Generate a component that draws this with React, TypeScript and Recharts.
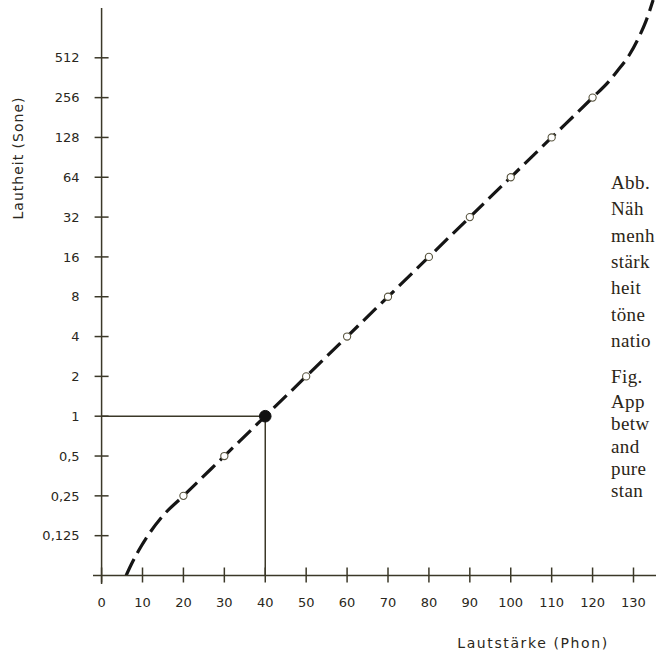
import React from 'react';
import { ComposedChart, Line, XAxis, YAxis, ReferenceLine, Scatter, Customized } from 'recharts';

const W = 656;
const H = 654;
const X_MIN = -2.1;
const X_MAX = 135.5;
const Y_MIN = 1 / 16;
const Y_MAX = 1400;
const PLOT_LEFT = 93;
const PLOT_BOTTOM_PAD = 78.5;

// dashed loudness curve (Phon -> Sone)
const curvePhon = [6.0, 7.1, 9.1, 11.3, 15, 20, 30, 40, 50, 60, 70, 80, 90, 100, 110, 120, 124, 126, 129, 131, 133, 134.8];
const curveSone = [0.0625, 0.074, 0.097, 0.125, 0.177, 0.25, 0.5, 1, 2, 4, 8, 16, 32, 64, 128, 256, 340, 405, 540, 700, 960, 1400];

// open circle markers
const markerPhon = [20, 30, 50, 60, 70, 80, 90, 100, 110, 120];
const markerSone = [0.25, 0.5, 2, 4, 8, 16, 32, 64, 128, 256];

// reference point (40 Phon = 1 Sone)
const refPhon = [40];
const refSone = [1];

const xTicks = [0, 10, 20, 30, 40, 50, 60, 70, 80, 90, 100, 110, 120, 130];
const yTicks = [0.125, 0.25, 0.5, 1, 2, 4, 8, 16, 32, 64, 128, 256, 512];
const yTickLabels = ['0,125', '0,25', '0,5', '1', '2', '4', '8', '16', '32', '64', '128', '256', '512'];

const captionLines = ['Abb.', 'Näh', 'menh', 'stärk', 'heit', 'töne', 'natio', 'Fig.', 'App', 'betw', 'and', 'pure', 'stan'];
const captionBaselines = [189, 215, 242, 268, 294, 321, 347, 383, 408, 430, 453, 475, 497];

const curveData = curvePhon.map((p, i) => ({ phon: p, sone: curveSone[i] }));
const markerData = markerPhon.map((p, i) => ({ phon: p, sone: markerSone[i] }));
const refData = refPhon.map((p, i) => ({ phon: p, sone: refSone[i] }));

const INK = '#2a2720';
const AXIS = '#3b3828';
const FONT = '"DejaVu Sans", sans-serif';

const plotWidth = W - PLOT_LEFT;
const zeroOffset = ((0 - X_MIN) / (X_MAX - X_MIN)) * plotWidth;

const XTick = (props: any) => {
  const { x, y, payload } = props;
  return (
    <g>
      <line x1={x} x2={x} y1={y - 8} y2={y + 7} stroke={AXIS} strokeWidth={1.5} />
      <text x={x} y={y + 31} textAnchor="middle" fontSize={13} fontFamily={FONT} fill={INK}>
        {payload.value}
      </text>
    </g>
  );
};

const YTick = (props: any) => {
  const { x, y, payload } = props;
  const ax = x + zeroOffset;
  const idx = yTicks.indexOf(payload.value);
  return (
    <g>
      <line x1={ax - 7} x2={ax + 7} y1={y} y2={y} stroke={AXIS} strokeWidth={1.5} />
      <text x={ax - 22} y={y} dy="0.36em" textAnchor="end" fontSize={13} fontFamily={FONT} fill={INK}>
        {idx >= 0 ? yTickLabels[idx] : ''}
      </text>
    </g>
  );
};

const OpenDot = (props: any) => {
  const { cx, cy } = props;
  return <circle cx={cx} cy={cy} r={3.6} fill="#ffffff" stroke="#5a5640" strokeWidth={1.1} />;
};

const FilledDot = (props: any) => {
  const { cx, cy } = props;
  return <circle cx={cx} cy={cy} r={5.8} fill="#111111" stroke="#111111" />;
};

const Titles = () => (
  <g>
    <text x={533} y={648} textAnchor="middle" fontSize={14} letterSpacing={1.6} fontFamily={FONT} fill={INK}>
      Lautstärke (Phon)
    </text>
    <text
      x={0}
      y={0}
      transform="translate(23 158) rotate(-90)"
      textAnchor="middle"
      fontSize={14}
      letterSpacing={1}
      fontFamily={FONT}
      fill={INK}
    >
      Lautheit (Sone)
    </text>
    {captionLines.map((t, i) => (
      <text
        key={t + i}
        x={611}
        y={captionBaselines[i]}
        fontSize={19}
        letterSpacing={0.4}
        fontFamily='"Liberation Serif", "DejaVu Serif", serif'
        fill="#2b2516"
      >
        {t}
      </text>
    ))}
  </g>
);

export default function App() {
  return (
    <div style={{ position: 'absolute', left: 0, top: 0, width: W, height: H, background: '#ffffff', overflow: 'hidden' }}>
      <ComposedChart width={W} height={H} margin={{ top: 0, right: 0, bottom: 0, left: 0 }}>
        <XAxis
          type="number"
          dataKey="phon"
          domain={[X_MIN, X_MAX]}
          allowDataOverflow
          ticks={xTicks}
          tick={<XTick />}
          tickLine={false}
          tickSize={0}
          tickMargin={0}
          axisLine={{ stroke: AXIS, strokeWidth: 1.5 }}
          height={PLOT_BOTTOM_PAD}
          interval={0}
        />
        <YAxis
          type="number"
          dataKey="sone"
          scale="log"
          domain={[Y_MIN, Y_MAX]}
          allowDataOverflow
          ticks={yTicks}
          tick={<YTick />}
          tickLine={false}
          tickSize={0}
          tickMargin={0}
          axisLine={false}
          width={PLOT_LEFT}
          interval={0}
        />
        <ReferenceLine
          segment={[{ x: 0, y: 0.054 }, { x: 0, y: 1218 }]}
          stroke={AXIS}
          strokeWidth={1.5}
          ifOverflow="visible"
        />
        <ReferenceLine
          segment={[{ x: 0, y: 1 }, { x: 40, y: 1 }]}
          stroke={AXIS}
          strokeWidth={1.5}
          ifOverflow="visible"
        />
        <ReferenceLine
          segment={[{ x: 40, y: 1 / 16 }, { x: 40, y: 1 }]}
          stroke={AXIS}
          strokeWidth={1.5}
          ifOverflow="visible"
        />
        <Line
          data={curveData}
          dataKey="sone"
          type="monotone"
          stroke="#151515"
          strokeWidth={3.2}
          strokeDasharray="18 7"
          dot={false}
          activeDot={false}
          isAnimationActive={false}
        />
        <Scatter data={markerData} dataKey="sone" shape={<OpenDot />} isAnimationActive={false} />
        <Scatter data={refData} dataKey="sone" shape={<FilledDot />} isAnimationActive={false} />
        <Customized component={Titles} />
      </ComposedChart>
    </div>
  );
}
